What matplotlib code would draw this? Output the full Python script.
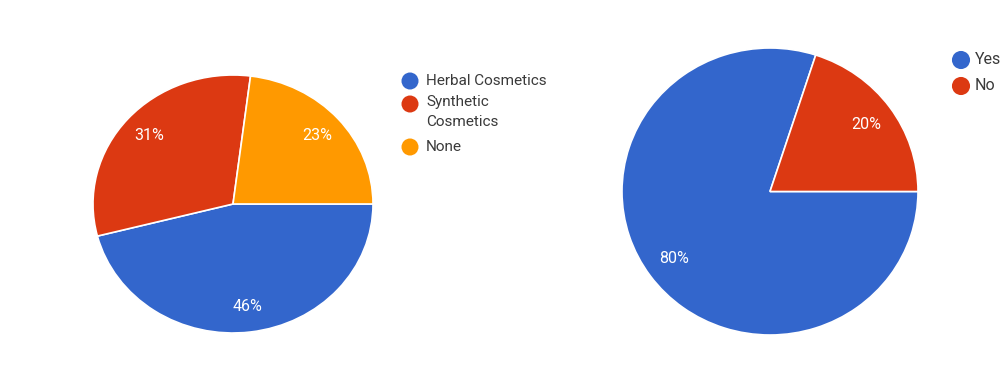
import matplotlib
matplotlib.use("Agg")
import matplotlib.pyplot as plt

plt.rcParams['font.family'] = ['Roboto', 'DejaVu Sans']

# Data
left_labels = ["Herbal Cosmetics", "Synthetic\nCosmetics", "None"]
left_values = [46, 31, 23]
right_labels = ["Yes", "No"]
right_values = [80, 20]

left_colors = ["#3366CC", "#DC3912", "#FF9900"]
right_colors = ["#3366CC", "#DC3912"]

W, H = 1001, 383
fig = plt.figure(figsize=(W / 100, H / 100), dpi=100)
fig.patch.set_facecolor("white")


def px_axes(x0, y0, x1, y1):
    # pixel box (top-down coords) -> figure fraction axes
    return fig.add_axes([x0 / W, 1 - y1 / H, (x1 - x0) / W, (y1 - y0) / H])


def draw_pie(ax, values, colors):
    ax.pie(values, colors=colors, startangle=0, counterclock=False,
           autopct=lambda p: f"{p:.0f}%", pctdistance=0.8, radius=1,
           wedgeprops=dict(edgecolor="white", linewidth=1.2),
           textprops=dict(color="white", fontsize=11.5))
    ax.set_xlim(-1, 1)
    ax.set_ylim(-1, 1)
    ax.set_aspect("auto")
    ax.axis("off")


axL = px_axes(93, 75, 373, 333)
draw_pie(axL, left_values, left_colors)

axR = px_axes(622, 48, 918, 335)
draw_pie(axR, right_values, right_colors)

# Legends drawn in a pixel-coordinate overlay
ov = fig.add_axes([0, 0, 1, 1], zorder=5)
ov.set_xlim(0, W)
ov.set_ylim(H, 0)
ov.axis("off")
ov.patch.set_alpha(0)

text_color = "#3a3a3a"

left_rows = [81, 104, 147]
for lab, col, y in zip(left_labels, left_colors, left_rows):
    ov.scatter([410], [y], s=150, color=col, edgecolors="none")
    if "\n" in lab:
        ov.text(426, y - 9, lab, fontsize=11, color=text_color, va="top", linespacing=1.55)
    else:
        ov.text(426, y, lab, fontsize=11, color=text_color, va="center")

right_rows = [60, 86]
for lab, col, y in zip(right_labels, right_colors, right_rows):
    ov.scatter([961], [y], s=170, color=col, edgecolors="none")
    ov.text(975, y, lab, fontsize=11.5, color=text_color, va="center", clip_on=False)

fig.savefig("out.png", dpi=100, facecolor="white")
